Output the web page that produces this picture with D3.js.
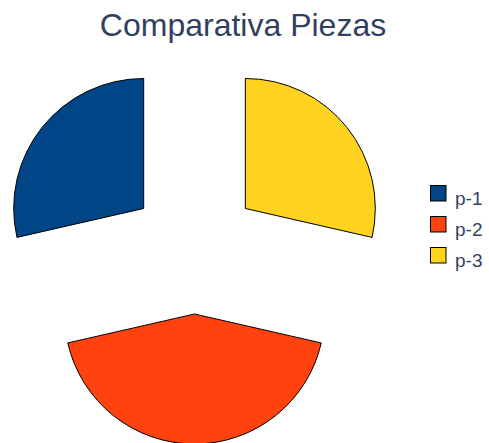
<!DOCTYPE html>
<html>
<head>
<meta charset="utf-8">
<script src="https://cdn.jsdelivr.net/npm/d3@7"></script>
<style>
  html, body { margin: 0; padding: 0; background: #fff; }
  svg { display: block; font-family: "Liberation Sans", Arial, sans-serif; }
</style>
</head>
<body>
<svg id="chart" width="489" height="443"></svg>
<script>
// chart data
var labels = ["p-1", "p-2", "p-3"];
var values = [20, 30, 20];
var colors = ["#004586", "#ff420e", "#ffd320"];
var title = "Comparativa Piezas";

var width = 489, height = 443;
var cx = 194.5, cy = 249, radius = 130, explode = 65;

var svg = d3.select("#chart");

svg.append("text")
    .attr("x", 243)
    .attr("y", 36)
    .attr("text-anchor", "middle")
    .attr("font-size", 32)
    .attr("fill", "#333f5f")
    .text(title);

// counter-clockwise from 12 o'clock
var pie = d3.pie()
    .sort(null)
    .startAngle(0)
    .endAngle(-2 * Math.PI)
    .value(function (d) { return d; });

var arc = d3.arc()
    .innerRadius(0)
    .outerRadius(radius);

var arcs = pie(values);

svg.append("g")
    .attr("transform", "translate(" + cx + "," + cy + ")")
    .selectAll("path")
    .data(arcs)
    .enter().append("path")
    .attr("transform", function (d) {
        var mid = (d.startAngle + d.endAngle) / 2;
        return "translate(" + (Math.sin(mid) * explode) + "," + (-Math.cos(mid) * explode) + ")";
    })
    .attr("d", arc)
    .attr("fill", function (d, i) { return colors[i]; })
    .attr("stroke", "#000")
    .attr("stroke-width", 1)
    .attr("stroke-linejoin", "round");

// legend
var legend = svg.append("g")
    .attr("transform", "translate(430,185)");

var item = legend.selectAll("g")
    .data(labels)
    .enter().append("g")
    .attr("transform", function (d, i) { return "translate(0," + (i * 31) + ")"; });

item.append("rect")
    .attr("x", 0.5)
    .attr("y", 0.5)
    .attr("width", 15.5)
    .attr("height", 15.5)
    .attr("fill", function (d, i) { return colors[i]; })
    .attr("stroke", "#000");

item.append("text")
    .attr("x", 25)
    .attr("y", 20)
    .attr("font-size", 19)
    .attr("fill", "#333f5f")
    .text(function (d) { return d; });
</script>
</body>
</html>
